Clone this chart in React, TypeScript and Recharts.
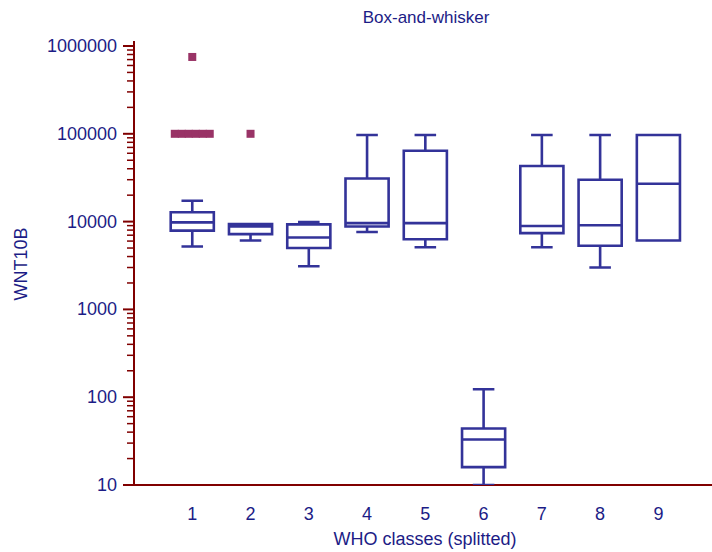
import React from "react";
import { ComposedChart, XAxis, YAxis, Scatter } from "recharts";

// WNT10B expression per WHO class (log scale)
const classes = [1, 2, 3, 4, 5, 6, 7, 8, 9];
const whiskerLow = [5200, 6100, 3100, 7600, 5100, 10, 5100, 3000, 6100];
const q1 = [7900, 7200, 5000, 8800, 6300, 16, 7400, 5300, 6100];
const median = [9800, 8800, 6600, 9600, 9600, 33, 8900, 9100, 27000];
const q3 = [12800, 9400, 9300, 31000, 64000, 44, 43000, 30000, 97000];
const whiskerHigh = [17300, 9400, 9900, 97000, 97000, 123, 97000, 97000, 97000];

const outlierClass = [1, 1, 1, 1, 1, 1, 1, 2];
const outlierValue = [750000, 100000, 100000, 100000, 100000, 100000, 100000, 100000];

const majorTicks = [10, 100, 1000, 10000, 100000, 1000000];

const TEXT = "#1c1c86";
const BOX = "#333399";
const AXIS = "#800000";
const OUTLIER = "#993366";
const FONT = "'Liberation Sans', Arial, sans-serif";

const BOX_HALF = 0.37;
const CAP_HALF = 0.185;
const JITTER = 0.12;

// minor log ticks 2..9 inside every decade
const minorTicks = majorTicks
  .slice(0, -1)
  .flatMap((d) => [2, 3, 4, 5, 6, 7, 8, 9].map((m) => d * m));
const yTicks = [...majorTicks, ...minorTicks].sort((a, b) => a - b);

// one continuous polyline per box: caps, whiskers, box and median
function boxPath(i: number) {
  const c = classes[i];
  const lo = whiskerLow[i];
  const hi = whiskerHigh[i];
  const a = q1[i];
  const b = q3[i];
  const m = median[i];
  const pts: [number, number][] = [
    [c - CAP_HALF, lo], [c + CAP_HALF, lo], [c, lo], [c, a],
    [c - BOX_HALF, a], [c - BOX_HALF, b], [c, b], [c, hi],
    [c - CAP_HALF, hi], [c + CAP_HALF, hi], [c, hi], [c, b],
    [c + BOX_HALF, b], [c + BOX_HALF, m], [c - BOX_HALF, m], [c + BOX_HALF, m],
    [c + BOX_HALF, a], [c, a],
  ];
  return pts.map(([x, y]) => ({ x, y }));
}

// spread repeated outliers of one class side by side
const outliers = outlierClass.map((cls, i) => {
  const same = outlierClass
    .map((c, j) => j)
    .filter((j) => outlierClass[j] === cls && outlierValue[j] === outlierValue[i]);
  const k = same.indexOf(i);
  return { x: cls + (k - (same.length - 1) / 2) * JITTER, y: outlierValue[i] };
});

const YTick = (props: any) => {
  const { x, y, payload } = props;
  const major = majorTicks.includes(payload.value);
  return (
    <g>
      <line
        x1={x - (major ? 11 : 7)}
        x2={x}
        y1={y}
        y2={y}
        stroke={AXIS}
        strokeWidth={major ? 2 : 1.5}
      />
      {major && (
        <text x={x - 17} y={y + 6} textAnchor="end" fill={TEXT} fontSize={18} fontFamily={FONT}>
          {payload.value}
        </text>
      )}
    </g>
  );
};

const XTick = (props: any) => {
  const { x, y, payload } = props;
  return (
    <text x={x} y={y + 33} textAnchor="middle" fill={TEXT} fontSize={18} fontFamily={FONT}>
      {payload.value}
    </text>
  );
};

const Square = (props: any) => {
  const { cx, cy } = props;
  return <rect x={cx - 4} y={cy - 4} width={8} height={8} fill={OUTLIER} />;
};

const Empty = () => <g />;

export default function App() {
  return (
    <div style={{ position: "absolute", left: 0, top: 0, width: 712, height: 552, overflow: "hidden", background: "#fff" }}>
      <ComposedChart width={712} height={552} margin={{ top: 41, right: 0, bottom: 0, left: 0 }}>
        <XAxis
          type="number"
          dataKey="x"
          domain={[0, 9.92]}
          allowDataOverflow
          ticks={classes}
          interval={0}
          height={67}
          axisLine={{ stroke: AXIS, strokeWidth: 2 }}
          tickLine={false}
          tickSize={0}
          tick={<XTick />}
        />
        <YAxis
          type="number"
          dataKey="y"
          scale="log"
          domain={[10, 1140000]}
          allowDataOverflow
          ticks={yTicks}
          interval={0}
          width={134}
          axisLine={{ stroke: AXIS, strokeWidth: 2 }}
          tickLine={false}
          tickSize={0}
          tickMargin={0}
          tick={<YTick />}
        />
        {classes.map((c, i) => (
          <Scatter
            key={c}
            data={boxPath(i)}
            dataKey="y"
            line={{ stroke: BOX, strokeWidth: 2.6, strokeLinejoin: "miter" }}
            lineType="joint"
            shape={<Empty />}
            isAnimationActive={false}
          />
        ))}
        <Scatter data={outliers} dataKey="y" shape={<Square />} isAnimationActive={false} />
        <text x={426} y={23} textAnchor="middle" fill={TEXT} fontSize={17} fontFamily={FONT}>
          Box-and-whisker
        </text>
        <text
          x={27}
          y={264}
          transform="rotate(-90 27 264)"
          textAnchor="middle"
          fill={TEXT}
          fontSize={18}
          fontFamily={FONT}
        >
          WNT10B
        </text>
        <text x={425} y={545} textAnchor="middle" fill={TEXT} fontSize={18} fontFamily={FONT}>
          WHO classes (splitted)
        </text>
      </ComposedChart>
    </div>
  );
}
